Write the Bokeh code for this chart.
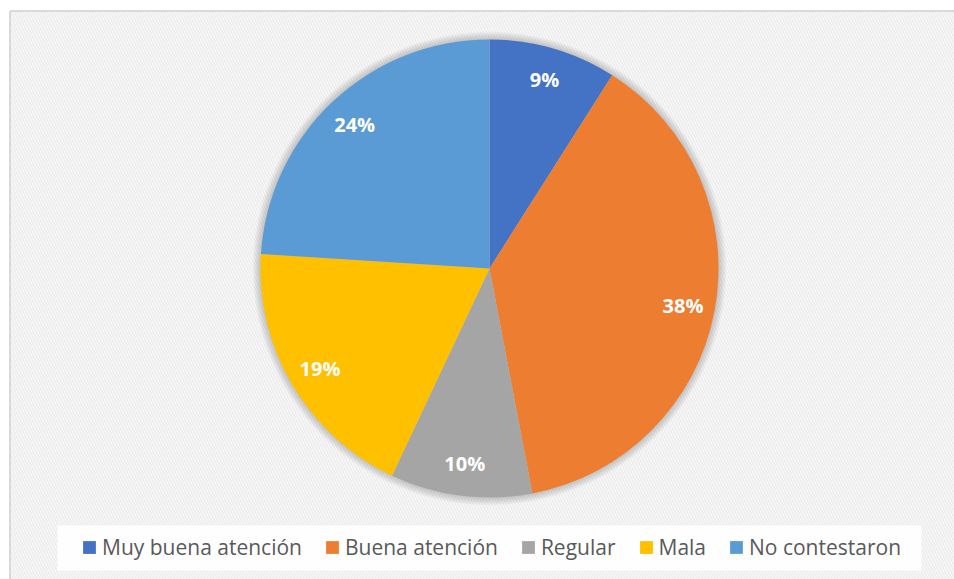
import math
from bokeh.plotting import figure
from bokeh.models import Range1d, Legend, LegendItem, ColumnDataSource
from bokeh.core.properties import value
from bokeh.embed import file_html
from bokeh.resources import INLINE

categories = ["Muy buena atención", "Buena atención", "Regular", "Mala", "No contestaron"]
percents = [9, 38, 10, 19, 24]
colors = ["#4472C4", "#ED7D31", "#A5A5A5", "#FFC000", "#5B9BD5"]

W, H = 954, 579
CX, CY, R = 489, 311, 229

total = sum(percents)
starts, ends, lx, ly, labels = [], [], [], [], []
cum = 0.0
for v in percents:
    a0 = cum / total
    cum += v
    a1 = cum / total
    starts.append(math.pi / 2 - 2 * math.pi * a1)
    ends.append(math.pi / 2 - 2 * math.pi * a0)
    mid = math.pi / 2 - 2 * math.pi * (a0 + a1) / 2
    lx.append(CX + 0.86 * R * math.cos(mid))
    ly.append(CY + 0.86 * R * math.sin(mid))
    labels.append(f"{v}%")

src = ColumnDataSource(dict(cat=categories, val=percents, color=colors,
                            start=starts, end=ends, lx=lx, ly=ly, label=labels,
                            x=[CX] * len(percents), y=[CY] * len(percents)))

p = figure(width=W, height=H, output_backend="svg", toolbar_location=None,
           x_range=Range1d(0, W), y_range=Range1d(0, H), min_border=0)
p.axis.visible = False
p.grid.visible = False
p.outline_line_color = None
p.background_fill_color = "white"
p.border_fill_color = "white"

# hatched chart-area background
p.quad(left=[10.5], right=[W], bottom=[0], top=[H - 11], fill_color="#fcfcfc",
       hatch_pattern="\\", hatch_color="#eeeeee", hatch_scale=6, hatch_weight=2,
       line_color=None)
# frame border (left and top)
p.segment(x0=[9.5], y0=[0], x1=[9.5], y1=[H - 10.5], line_color="#d9d9d9", line_width=2)
p.segment(x0=[9.5], y0=[H - 10.5], x1=[W], y1=[H - 10.5], line_color="#d9d9d9", line_width=2)

# soft shadow around pie
for k in range(1, 9):
    p.circle(x=[CX], y=[CY], radius=R + k, radius_units="screen",
             fill_color="black", fill_alpha=0.022, line_color=None)

r = p.wedge(x="x", y="y", radius=R, radius_units="screen", start_angle="start",
            end_angle="end", fill_color="color", line_color=None, source=src)

p.text(x="lx", y="ly", text="label", source=src, text_color="white",
       text_font=value("Open Sans"), text_font_style="bold", text_font_size="20px",
       text_align="center", text_baseline="middle")

# legend box
p.quad(left=[57], right=[921], bottom=[9], top=[54], fill_color="white",
       fill_alpha=0.9, line_color=None)

items = [LegendItem(label=c, renderers=[r], index=i) for i, c in enumerate(categories)]
legend = Legend(items=items, orientation="horizontal", location=(81, 18),
                label_text_font="Open Sans", label_text_font_size="21px",
                label_text_color="#595959", glyph_width=16, glyph_height=16,
                label_standoff=5, spacing=22, padding=0, margin=0,
                background_fill_alpha=0, border_line_color=None)
p.add_layout(legend, "center")

open("out.html", "w").write(file_html(p, INLINE))
